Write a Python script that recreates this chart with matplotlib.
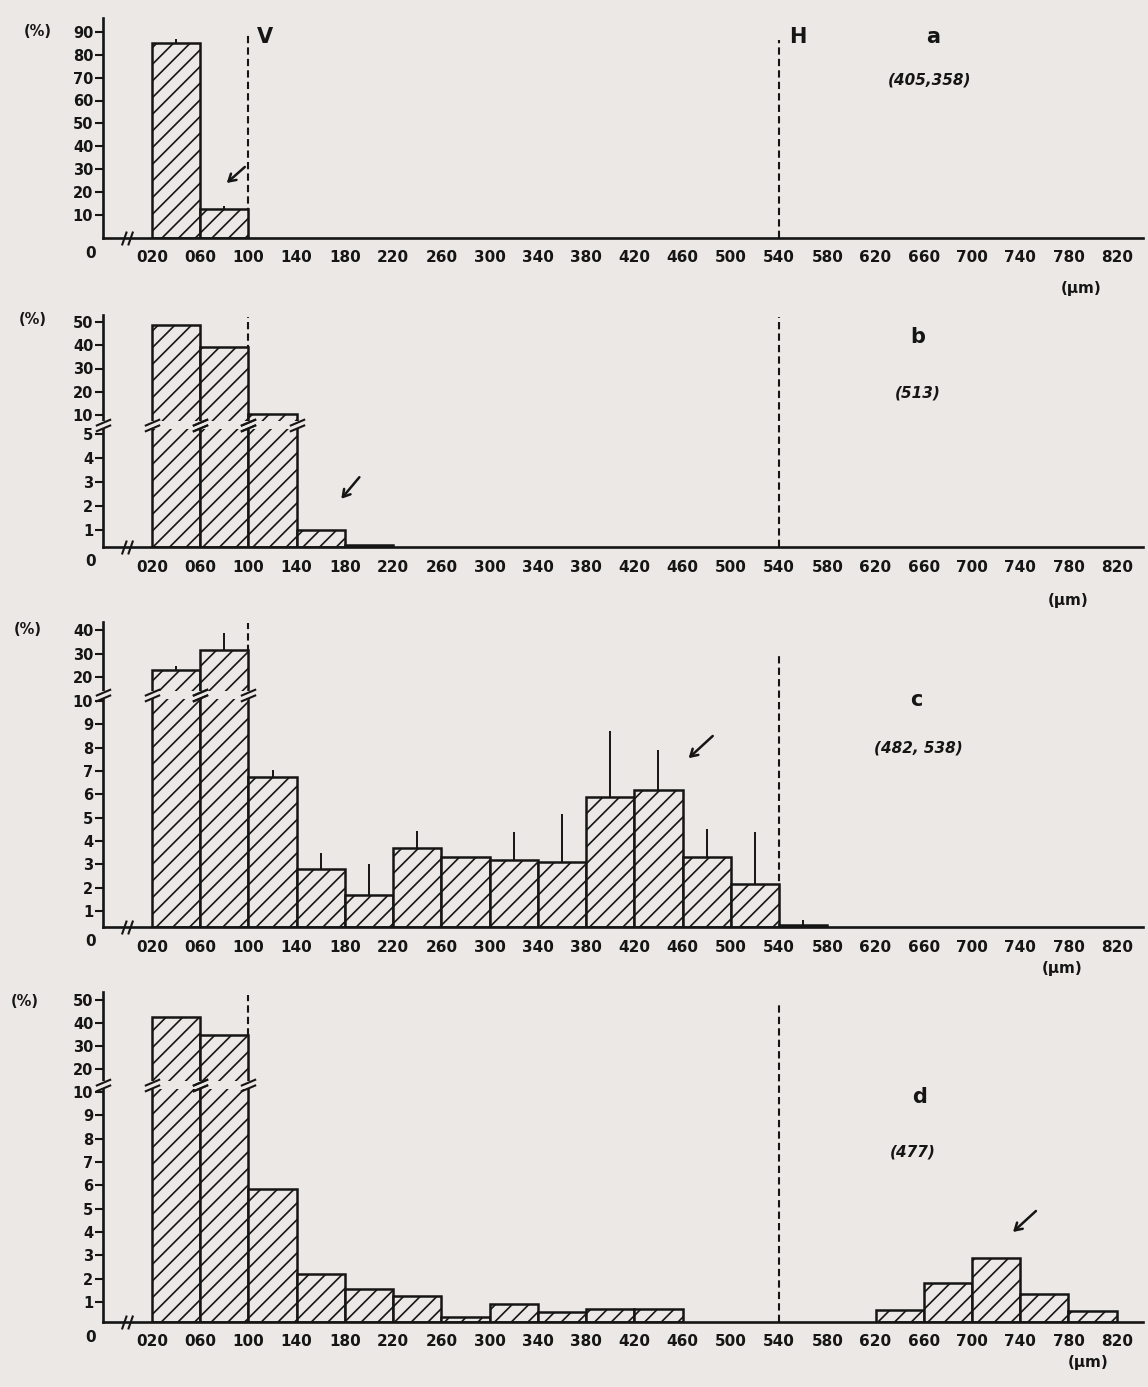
import numpy as np
import matplotlib
matplotlib.use("Agg")
import matplotlib.pyplot as plt
from matplotlib.patches import Rectangle
from matplotlib.path import Path

# oocyte diameter classes (um), lower edge of each 40 um class
class_edges = list(range(20, 820, 40))
x_ticks = list(range(20, 860, 40))
x_labels = ["%03d" % v for v in x_ticks]

# frequencies (%) per class for the four samples
freq_a = [85.0, 12.5]
err_a = [87.0, 14.0]
freq_b = [48.6, 39.2, 10.3, 1.0, 0.1]
err_b = []
freq_c = [23.0, 31.7, 6.75, 2.8, 1.7, 3.7, 3.3, 3.2, 3.1, 5.9, 6.2, 3.3, 2.15, 0.15]
err_c = [25.0, 38.7, 7.05, 3.5, 3.0, 4.45, np.nan, 4.4, 5.15, 8.7, 7.9, 4.5, 4.4, 0.45]
freq_d = [42.6, 34.8, 5.85, 2.2, 1.55, 1.25, 0.25, 0.9, 0.5, 0.65, 0.65,
          0, 0, 0, 0, 0.6, 1.8, 2.87, 1.36, 0.55]
err_d = []

yticks_a = [10, 20, 30, 40, 50, 60, 70, 80, 90]
yticks_b = [1, 2, 3, 4, 5, 10, 20, 30, 40, 50]
yticks_c = [1, 2, 3, 4, 5, 6, 7, 8, 9, 10, 20, 30, 40]
yticks_d = [1, 2, 3, 4, 5, 6, 7, 8, 9, 10, 20, 30, 40, 50]

letters = ["a", "b", "c", "d"]
sample_n = ["(405,358)", "(513)", "(482, 538)", "(477)"]

BG = "#ebe8e5"
INK = "#151515"
W, H = 1148, 1387

plt.rcParams["hatch.linewidth"] = 1.2
plt.rcParams["font.family"] = ["DejaVu Sans"]

fig = plt.figure(figsize=(W / 100, H / 100), dpi=100, facecolor=BG)


def box(left, top, right, bottom):
    return [left / W, 1 - bottom / H, (right - left) / W, (bottom - top) / H]


def fpos(x, y):
    return x / W, 1 - y / H


def make_scale(vals, pxs):
    vals = np.asarray(vals, float)
    pxs = np.asarray(pxs, float)

    def fwd(v):
        return np.interp(v, vals, pxs)

    def inv(p):
        return np.interp(p, pxs, vals)

    return fwd, inv


# break marks: two shallow slashes (vertical lines) / two steep slashes (x axis)
brk_flat = Path([(-1, -0.8), (1, 0.05), (-1, -0.05), (1, 0.8)],
                [Path.MOVETO, Path.LINETO, Path.MOVETO, Path.LINETO])
brk_steep = Path([(-0.8, -1), (-0.1, 1), (0.1, -1), (0.8, 1)],
                 [Path.MOVETO, Path.LINETO, Path.MOVETO, Path.LINETO])

panels = [
    dict(freq=freq_a, err=err_a, yticks=yticks_a, box=(18, 238),
         scale=([0, 96], [0, 220]), brk=None, vtop=89.5, htop=86.5,
         arrow=((82, 24), (97, 31)), pct=(38, 31), let=(933, 37), n=(930, 80), um=(1081, 288)),
    dict(freq=freq_b, err=err_b, yticks=yticks_b, box=(315, 547),
         scale=([0, 1, 5, 10, 50, 53], [0, 17, 113, 132, 225, 232]), brk=7.5, vtop=52, htop=52,
         arrow=((177, 2.3), (192, 3.2)), pct=(33, 320), let=(918, 337), n=(918, 393), um=(1068, 600)),
    dict(freq=freq_c, err=err_c, yticks=yticks_c, box=(622, 927),
         scale=([0, 1, 10, 40, 43.4], [0, 16, 226, 297, 305]), brk=12.5, vtop=43, htop=29,
         arrow=((465, 7.55), (485, 8.5)), pct=(28, 630), let=(916, 700), n=(918, 748), um=(1062, 968)),
    dict(freq=freq_d, err=err_d, yticks=yticks_d, box=(992, 1322),
         scale=([0, 1, 10, 50, 53.5], [0, 20, 230, 322, 330]), brk=13, vtop=52, htop=49,
         arrow=((734, 4.0), (753, 4.9)), pct=(25, 1002), let=(920, 1097), n=(913, 1152), um=(1088, 1362)),
]

XLIM = (-20.6, 841.8)

for i, p in enumerate(panels):
    top, bottom = p["box"]
    ax = fig.add_axes(box(103, top, 1143, bottom))
    ax.set_facecolor("none")
    fwd, inv = make_scale(*p["scale"])
    ax.set_yscale("function", functions=(fwd, inv))
    ax.set_xlim(*XLIM)
    ax.set_ylim(0, p["scale"][0][-1])

    for s in ("top", "right"):
        ax.spines[s].set_visible(False)
    for s in ("left", "bottom"):
        ax.spines[s].set_linewidth(1.9)
        ax.spines[s].set_color(INK)

    ax.set_xticks(x_ticks, x_labels)
    ax.tick_params(axis="x", length=0, pad=9, labelsize=11, labelcolor=INK)
    for t in ax.get_xticklabels():
        t.set_fontweight("bold")
    ax.set_yticks(p["yticks"], [str(v) for v in p["yticks"]])
    ax.yaxis.set_minor_locator(matplotlib.ticker.NullLocator())
    ax.tick_params(axis="y", direction="out", length=6, width=1.5, pad=1,
                   labelsize=10.5, labelcolor=INK, color=INK)
    for t in ax.get_yticklabels():
        t.set_fontweight("bold")

    # dashed limits: end of vitellogenesis (V) and hydration (H)
    ax.vlines(100, 0, p["vtop"], colors=INK, linestyles=(0, (3.5, 2)), lw=1.5, zorder=1)
    ax.vlines(540, 0, p["htop"], colors=INK, linestyles=(0, (3.5, 2)), lw=1.5, zorder=1)

    freq = np.asarray(p["freq"], float)
    edges = np.asarray(class_edges[:len(freq)], float)
    keep = freq > 0
    ax.bar(edges[keep], freq[keep], width=40, align="edge", facecolor=BG,
           edgecolor=INK, linewidth=1.8, hatch="//", zorder=2)

    if len(p["err"]):
        err = np.asarray(p["err"], float)
        ok = ~np.isnan(err)
        ax.vlines(edges[:len(err)][ok] + 20, freq[:len(err)][ok], err[ok],
                  colors=INK, lw=1.4, zorder=3)

    # broken ordinate
    if p["brk"] is not None:
        b = p["brk"]
        lo, hi = inv(fwd(b) - 4), inv(fwd(b) + 4)
        tall = freq > b
        for e in edges[tall]:
            ax.add_patch(Rectangle((e - 3, lo), 46, hi - lo, facecolor=BG,
                                   edgecolor="none", zorder=4, clip_on=False))
            ax.plot([e, e + 40], [b, b], ls="none", marker=brk_flat, ms=11,
                    mec=INK, mew=1.5, zorder=5, clip_on=False)
        ax.add_patch(Rectangle((XLIM[0] - 4, lo), 8, hi - lo, facecolor=BG,
                               edgecolor="none", zorder=4, clip_on=False))
        ax.plot([XLIM[0]], [b], ls="none", marker=brk_flat, ms=11,
                mec=INK, mew=1.5, zorder=5, clip_on=False)

    # broken abscissa
    ax.plot([-1], [0], ls="none", marker=brk_steep, ms=10, mec=INK, mew=1.5,
            zorder=5, clip_on=False)
    ax.annotate("0", xy=(-31, 0), xytext=(0, -15), textcoords="offset pixels",
                ha="center", va="center", fontsize=11, fontweight="bold",
                color=INK, annotation_clip=False)

    head, tail = p["arrow"]
    ax.annotate("", xy=head, xytext=tail,
                arrowprops=dict(arrowstyle="->,head_length=0.5,head_width=0.3",
                                color=INK, lw=1.8, shrinkA=0, shrinkB=0))

    fig.text(*fpos(*p["pct"]), "(%)", ha="center", va="center", fontsize=10.5,
             fontweight="bold", color=INK)
    fig.text(*fpos(*p["let"]), letters[i], ha="center", va="center", fontsize=15,
             fontweight="bold", color=INK)
    fig.text(*fpos(*p["n"]), sample_n[i], ha="center", va="center", fontsize=11,
             fontweight="bold", fontstyle="italic", color=INK)
    fig.text(*fpos(*p["um"]), "(\u00b5m)", ha="center", va="center", fontsize=11,
             fontweight="bold", color=INK)

fig.text(*fpos(265, 37), "V", ha="center", va="center", fontsize=15,
         fontweight="bold", color=INK)
fig.text(*fpos(798, 37), "H", ha="center", va="center", fontsize=15,
         fontweight="bold", color=INK)

fig.savefig("out.png", dpi=100, facecolor=BG)
